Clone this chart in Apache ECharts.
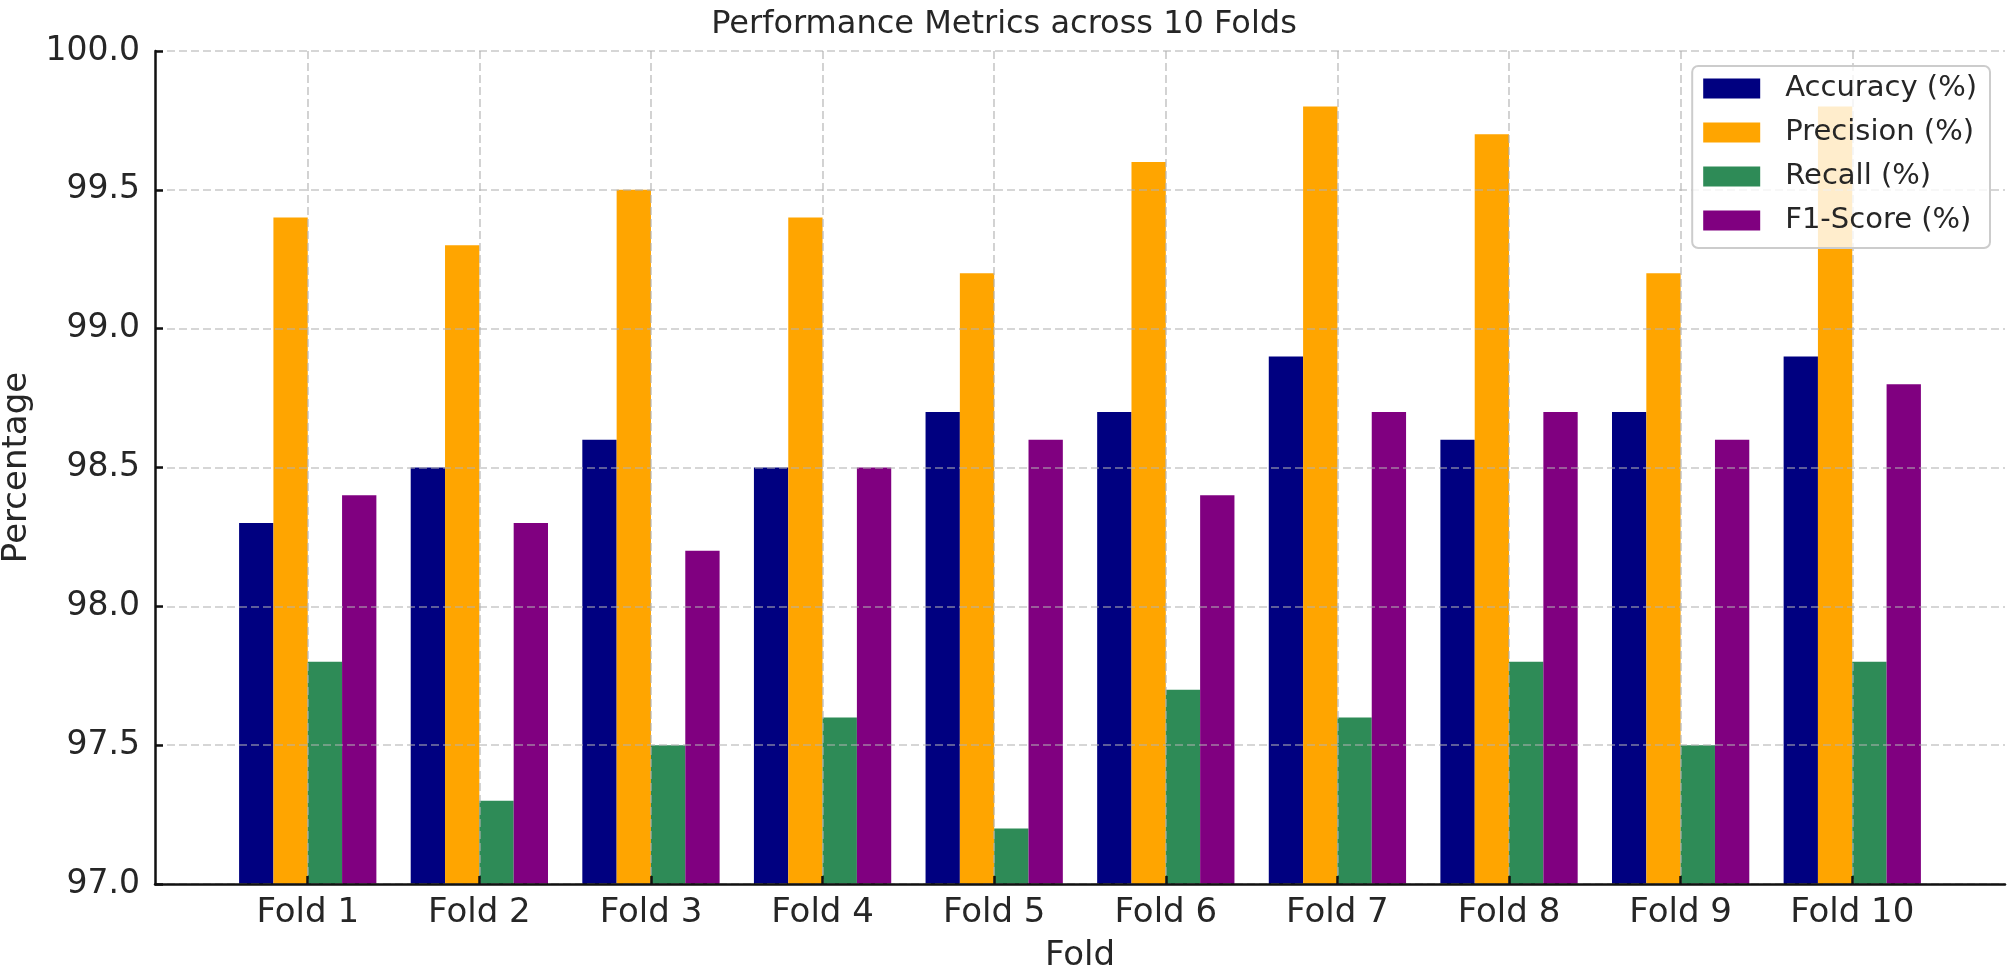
<!DOCTYPE html>
<html>
<head>
<meta charset="utf-8">
<script src="https://cdn.jsdelivr.net/npm/echarts@6/dist/echarts.min.js"></script>
<style>
html,body{margin:0;padding:0;background:#fff;}
#chart{width:2008px;height:969px;}
</style>
</head>
<body>
<div id="chart"></div>
<script>
const categories = ['Fold 1','Fold 2','Fold 3','Fold 4','Fold 5','Fold 6','Fold 7','Fold 8','Fold 9','Fold 10'];
const accuracy  = [98.3, 98.5, 98.6, 98.5, 98.7, 98.7, 98.9, 98.6, 98.7, 98.9];
const precision = [99.4, 99.3, 99.5, 99.4, 99.2, 99.6, 99.8, 99.7, 99.2, 99.8];
const recall    = [97.8, 97.3, 97.5, 97.6, 97.2, 97.7, 97.6, 97.8, 97.5, 97.8];
const f1score   = [98.4, 98.3, 98.2, 98.5, 98.6, 98.4, 98.7, 98.7, 98.6, 98.8];
const seriesNames = ['Accuracy (%)', 'Precision (%)', 'Recall (%)', 'F1-Score (%)'];
const yTicks = [97.0, 97.5, 98.0, 98.5, 99.0, 99.5, 100.0];

const FONT = 'DejaVu Sans';
const TXT = '#262626';
const colors = ['#000080', '#FFA500', '#2E8B57', '#800080'];
const idx = categories.map((c, i) => i);
const gridLine = {show: true, lineStyle: {color: '#b0b0b0', width: 1.6, type: [8, 4], opacity: 0.7}};

const chart = echarts.init(document.getElementById('chart'), null, {renderer: 'canvas'});
const allSeries = [accuracy, precision, recall, f1score].map((vals, s) => ({
  name: seriesNames[s],
  type: 'bar',
  data: vals.map((v, i) => [i, v]),
  barGap: '0%',
  barCategoryGap: '20%',
  itemStyle: {color: colors[s]},
  z: 2
}));

chart.setOption({
  animation: false,
  backgroundColor: '#fff',
  textStyle: {fontFamily: FONT},
  title: {
    text: 'Performance Metrics across 10 Folds',
    left: 'center', top: 4,
    textStyle: {fontFamily: FONT, fontSize: 32, fontWeight: 'normal', color: TXT}
  },
  legend: {
    data: seriesNames,
    orient: 'vertical',
    right: 18, top: 66,
    z: 20,
    icon: 'rect',
    itemWidth: 57, itemHeight: 20,
    itemGap: 15,
    padding: [8, 13, 13, 11],
    backgroundColor: 'rgba(255,255,255,0.8)',
    borderColor: '#cccccc', borderWidth: 2, borderRadius: 6,
    textStyle: {fontFamily: FONT, fontSize: 29, color: TXT, padding: [0, 0, 0, 20]}
  },
  grid: {left: 155, right: 3, top: 51, bottom: 85, containLabel: false, outerBoundsMode: 'none'},
  xAxis: {
    type: 'value',
    min: -0.89, max: 9.89,
    z: 5,
    name: 'Fold', nameLocation: 'middle', nameGap: 55,
    nameTextStyle: {fontFamily: FONT, fontSize: 34, color: TXT},
    axisLine: {show: true, onZero: false, lineStyle: {color: '#111', width: 2.5}},
    axisTick: {show: true, inside: true, length: 8, customValues: idx, lineStyle: {color: '#111', width: 2.5}},
    axisLabel: {show: true, customValues: idx, margin: 12, fontFamily: FONT, fontSize: 34, color: TXT,
      formatter: v => categories[Math.round(v)] || ''},
    splitLine: gridLine
  },
  yAxis: {
    type: 'value',
    min: 97, max: 100, interval: 0.5,
    z: 5,
    name: 'Percentage', nameLocation: 'middle', nameRotate: 90, nameGap: 117,
    nameTextStyle: {fontFamily: FONT, fontSize: 34, color: TXT},
    axisLine: {show: true, onZero: false, lineStyle: {color: '#111', width: 2.5}},
    axisTick: {show: true, inside: true, length: 8, lineStyle: {color: '#111', width: 2.5}},
    axisLabel: {show: true, margin: 15, fontFamily: FONT, fontSize: 33, color: TXT,
      formatter: v => yTicks.includes(v) ? v.toFixed(1) : Number(v).toFixed(1)},
    splitLine: gridLine
  },
  series: allSeries
});
</script>
</body>
</html>
